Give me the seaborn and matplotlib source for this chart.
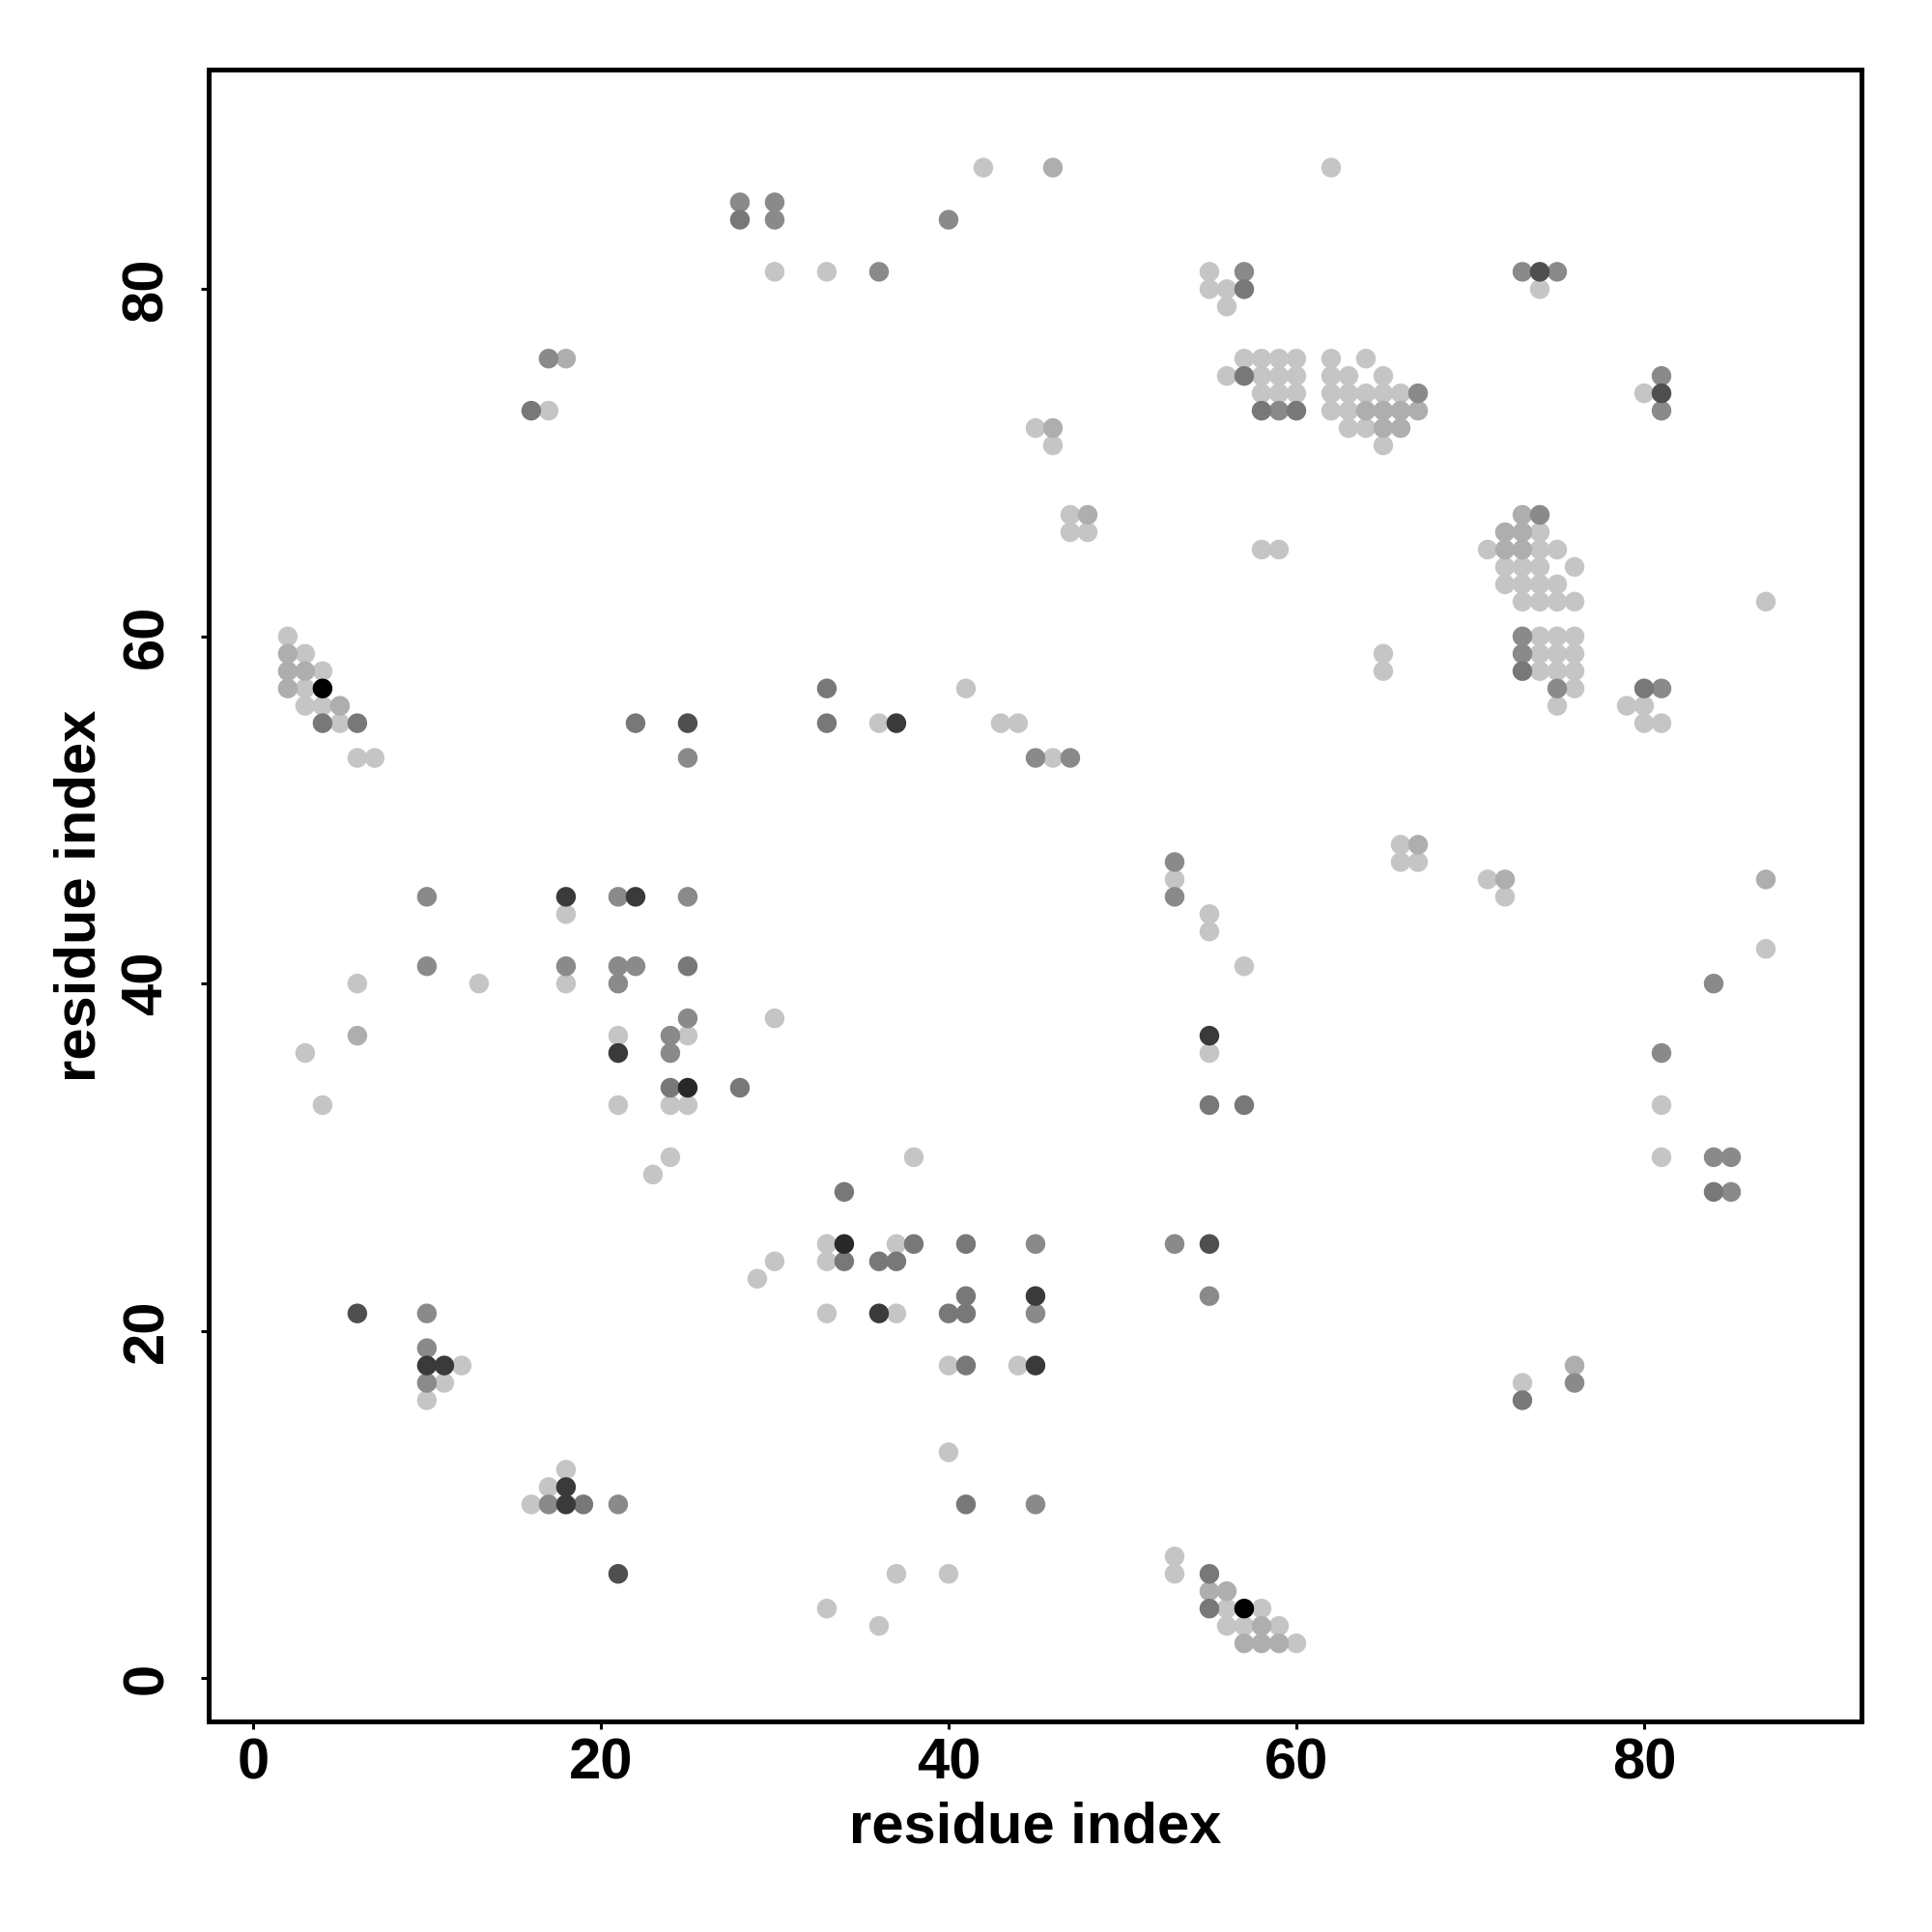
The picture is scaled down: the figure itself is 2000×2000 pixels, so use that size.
import pandas as pd
import matplotlib
matplotlib.use("Agg")
import matplotlib.pyplot as plt
from matplotlib.colors import LinearSegmentedColormap
import seaborn as sns

# contact map: one entry per row of residue j, listing residue i and contact score
row_j = [87, 85, 84, 81, 80, 79, 76, 75, 74, 73, 72, 71, 67, 66, 65, 64, 63, 62,
         60, 59, 58, 57, 56, 55, 53, 48, 47, 46, 45, 44, 43, 42, 41, 40, 38, 37,
         36, 34, 33, 30, 29, 28, 25, 24, 23, 22, 21, 19, 18, 17, 16, 13, 12, 11,
         10, 7, 6, 5, 4, 3, 2]

row_i = [
    [42, 46, 62],
    [28, 30],
    [28, 30, 40],
    [30, 33, 36, 55, 57, 73, 74, 75],
    [55, 56, 57, 74],
    [56],
    [17, 18, 57, 58, 59, 60, 62, 64],
    [56, 57, 58, 59, 60, 62, 63, 65, 81],
    [58, 59, 60, 62, 63, 64, 65, 66, 67, 80, 81],
    [16, 17, 58, 59, 60, 62, 63, 64, 65, 66, 67, 81],
    [45, 46, 63, 64, 65, 66],
    [46, 65],
    [47, 48, 73, 74],
    [47, 48, 72, 73, 74],
    [58, 59, 71, 72, 73, 74, 75],
    [72, 73, 74, 76],
    [72, 73, 74, 75],
    [73, 74, 75, 76, 87],
    [2, 73, 74, 75, 76],
    [2, 3, 65, 73, 74, 75, 76],
    [2, 3, 4, 65, 73, 74, 75, 76],
    [2, 3, 4, 33, 41, 75, 76, 80, 81],
    [3, 4, 5, 75, 79, 80],
    [4, 5, 6, 22, 25, 33, 36, 37, 43, 44, 80, 81],
    [6, 7, 25, 45, 46, 47],
    [66, 67],
    [53, 66, 67],
    [53, 71, 72, 87],
    [10, 18, 21, 22, 25, 53, 72],
    [18, 55],
    [55],
    [87],
    [10, 18, 21, 22, 25, 57],
    [6, 13, 18, 21, 84],
    [25, 30],
    [6, 21, 24, 25, 55],
    [3, 21, 24, 55, 81],
    [24, 25, 28],
    [4, 21, 24, 25, 55, 57, 81],
    [24, 38, 81, 84, 85],
    [23],
    [34, 84, 85],
    [33, 34, 37, 38, 41, 45, 53, 55],
    [30, 33, 34, 36, 37],
    [29],
    [41, 45, 55],
    [6, 10, 33, 36, 37, 40, 41, 45],
    [10],
    [10, 11, 12, 40, 41, 44, 45, 76],
    [10, 11, 73, 76],
    [10, 73],
    [40],
    [18],
    [17, 18],
    [16, 17, 18, 19, 21, 41, 45],
    [53],
    [21, 37, 40, 53, 55],
    [55, 56],
    [33, 55, 56, 57, 58],
    [36, 56, 57, 58, 59],
    [57, 58, 59, 60],
]

row_score = [
    [.23, .32, .23],
    [.46, .46],
    [.53, .46, .46],
    [.23, .23, .46, .23, .46, .46, .69, .46],
    [.23, .23, .53, .23],
    [.23],
    [.46, .32, .23, .23, .23, .23, .23, .23],
    [.23, .53, .23, .23, .23, .23, .23, .23, .46],
    [.23, .23, .23, .23, .23, .23, .23, .23, .46, .23, .69],
    [.53, .23, .53, .46, .53, .23, .23, .32, .32, .32, .32, .46],
    [.23, .32, .23, .23, .32, .32],
    [.23, .23],
    [.23, .32, .32, .46],
    [.23, .23, .32, .32, .23],
    [.23, .23, .23, .32, .32, .23, .23],
    [.23, .23, .23, .23],
    [.23, .23, .23, .23],
    [.23, .23, .23, .23, .23],
    [.23, .46, .23, .23, .23],
    [.32, .23, .23, .46, .23, .23, .23],
    [.32, .32, .23, .23, .53, .23, .23, .23],
    [.32, .23, 1.0, .53, .23, .46, .23, .53, .46],
    [.23, .23, .32, .23, .23, .23],
    [.53, .23, .53, .53, .69, .53, .23, .77, .23, .23, .23, .23],
    [.23, .23, .46, .46, .23, .46],
    [.23, .32],
    [.46, .23, .23],
    [.23, .23, .32, .32],
    [.46, .77, .46, .77, .46, .46, .23],
    [.23, .23],
    [.23],
    [.23],
    [.46, .46, .46, .46, .53, .23],
    [.23, .23, .23, .46, .46],
    [.46, .23],
    [.32, .23, .46, .23, .77],
    [.23, .77, .46, .23, .46],
    [.53, .84, .53],
    [.23, .23, .23, .23, .53, .53, .23],
    [.23, .23, .23, .46, .46],
    [.23],
    [.53, .53, .46],
    [.23, .84, .23, .53, .53, .46, .46, .69],
    [.23, .23, .53, .53, .53],
    [.23],
    [.53, .77, .46],
    [.69, .46, .23, .77, .23, .53, .53, .46],
    [.46],
    [.77, .77, .23, .23, .53, .23, .77, .32],
    [.46, .23, .23, .46],
    [.23, .53],
    [.23],
    [.23],
    [.23, .77],
    [.23, .46, .77, .53, .46, .53, .46],
    [.23],
    [.69, .23, .23, .23, .53],
    [.32, .32],
    [.23, .53, .23, 1.0, .23],
    [.23, .23, .23, .32, .23],
    [.32, .32, .32, .23],
]

records = []
for j, xs, ss in zip(row_j, row_i, row_score):
    for i, s in zip(xs, ss):
        records.append({"i": i, "j": j, "score": s})
df = pd.DataFrame(records).sort_values("score")

sns.set_style("white")
plt.rcParams['font.family'] = ['Liberation Sans', 'DejaVu Sans']
plt.rcParams['text.color'] = 'black'
plt.rcParams['axes.labelcolor'] = 'black'
plt.rcParams['xtick.color'] = 'black'
plt.rcParams['ytick.color'] = 'black'

greys = LinearSegmentedColormap.from_list("wb", ["white", "black"])

fig = plt.figure(figsize=(10, 10), dpi=200)
ax = fig.add_axes([0.108, 0.109, 0.8555, 0.855])

sns.scatterplot(data=df, x="i", y="j", hue="score", palette=greys, hue_norm=(0, 1),
                s=54, linewidth=0, legend=False, ax=ax)

ax.set_xlim(-2.55, 92.5)
ax.set_ylim(-2.5, 92.65)
ax.set_xticks([0, 20, 40, 60, 80])
ax.set_yticks([0, 20, 40, 60, 80])
ax.tick_params(axis='both', direction='out', length=3, width=1.1, color='black',
               labelcolor='black', labelsize=21.5, left=True, bottom=True)
ax.tick_params(axis='x', pad=3)
ax.tick_params(axis='y', pad=10)
plt.setp(ax.get_xticklabels(), fontweight='bold')
plt.setp(ax.get_yticklabels(), fontweight='bold', rotation=90, va='center')

for sp in ax.spines.values():
    sp.set_visible(True)
    sp.set_color('black')
    sp.set_linewidth(1.8)

ax.set_xlabel('residue index', fontsize=21.5, fontweight='bold', labelpad=4, color='black')
ax.set_ylabel('residue index', fontsize=21.5, fontweight='bold', labelpad=5, color='black')

fig.savefig("out.png", dpi=200, facecolor='white')
